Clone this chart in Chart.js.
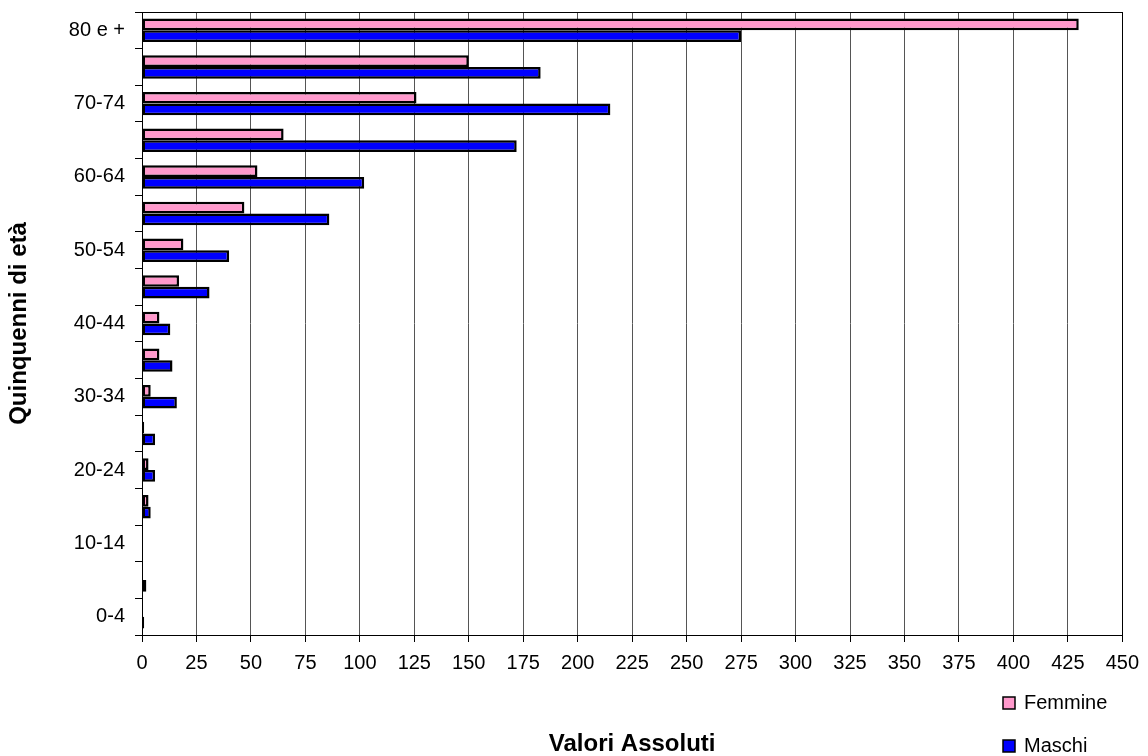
<!DOCTYPE html>
<html>
<head>
<meta charset="utf-8">
<script src="https://cdn.jsdelivr.net/npm/chart.js@4/dist/chart.umd.min.js"></script>
<style>
  html, body { margin: 0; padding: 0; background: #ffffff; }
  #wrap { width: 1148px; height: 756px; }
</style>
</head>
<body>
<div id="wrap"><canvas id="c" width="1148" height="756"></canvas></div>
<script>
// Age groups, oldest at the top
const classiEta = ['80 e +', '75-79', '70-74', '65-69', '60-64', '55-59', '50-54', '45-49',
                   '40-44', '35-39', '30-34', '25-29', '20-24', '15-19', '10-14', '5-9', '0-4'];
const femmine = [430, 150, 126, 65, 53, 47, 19, 17, 8, 8, 4, 1, 3, 3, 0, 0, 0];
const maschi  = [275, 183, 215, 172, 102, 86, 40, 31, 13, 14, 16, 6, 6, 4, 0, 2, 1];
const valoriTicks = { min: 0, max: 450, step: 25 };

const FONT = "'Liberation Sans', Arial, sans-serif";

// Black frame round the plot area
const cornice = {
  id: 'cornice',
  afterDraw(chart) {
    const { ctx, chartArea: a } = chart;
    ctx.save();
    ctx.strokeStyle = '#000';
    ctx.lineWidth = 1;
    ctx.strokeRect(Math.round(a.left) + 0.5, Math.round(a.top) + 0.5,
                   Math.round(a.right - a.left), Math.round(a.bottom - a.top));
    ctx.restore();
  }
};

// Stacked legend in the lower right corner
const legenda = {
  id: 'legenda',
  afterDraw(chart) {
    const { ctx } = chart;
    const rows = [703, 746];
    ctx.save();
    ctx.font = '20px ' + FONT;
    ctx.textBaseline = 'middle';
    chart.data.datasets.forEach((ds, i) => {
      const y = rows[i];
      ctx.fillStyle = ds.backgroundColor;
      ctx.fillRect(1003, y - 6, 12, 12);
      ctx.strokeStyle = '#000';
      ctx.lineWidth = 1.5;
      ctx.strokeRect(1003, y - 6, 12, 12);
      ctx.fillStyle = '#000';
      ctx.fillText(ds.label, 1024, y);
    });
    ctx.restore();
  }
};

new Chart(document.getElementById('c'), {
  type: 'bar',
  data: {
    labels: classiEta,
    datasets: [
      { label: 'Femmine', data: femmine, backgroundColor: '#FF99CC', borderColor: '#000',
        borderWidth: 2.5, borderSkipped: false },
      { label: 'Maschi', data: maschi, backgroundColor: '#0000FF', borderColor: '#000',
        borderWidth: 2.5, borderSkipped: false }
    ]
  },
  options: {
    indexAxis: 'y',
    responsive: false,
    animation: false,
    layout: { padding: { top: 12, right: 21, bottom: 0, left: 0 } },
    datasets: { bar: { categoryPercentage: 0.64, barPercentage: 1.0 } },
    plugins: { legend: { display: false }, tooltip: { enabled: false } },
    scales: {
      x: {
        min: valoriTicks.min, max: valoriTicks.max,
        ticks: { stepSize: valoriTicks.step, autoSkip: false, maxRotation: 0, padding: 9,
                 color: '#000', font: { family: FONT, size: 20 } },
        grid: { color: '#555', lineWidth: 1, tickLength: 7, tickColor: '#000' },
        border: { display: true, color: '#000', width: 1 },
        title: { display: true, text: 'Valori Assoluti', color: '#000',
                 font: { family: FONT, size: 24, weight: 'bold', lineHeight: 1 },
                 padding: { top: 0, bottom: 0 } },
        afterFit(scale) { scale.height = 121; }
      },
      y: {
        ticks: { autoSkip: false, padding: 10, color: '#000', font: { family: FONT, size: 20 },
                 callback(v, i) { return i % 2 === 0 ? classiEta[i] : ''; } },
        grid: { drawOnChartArea: false, tickLength: 7, color: '#000', tickColor: '#000', offset: true },
        border: { display: true, color: '#000', width: 1 },
        title: { display: true, text: 'Quinquenni di età', color: '#000',
                 font: { family: FONT, size: 24, weight: 'bold', lineHeight: 1 },
                 padding: { top: 7, bottom: 0 } },
        afterFit(scale) {
          scale.width = 142;
          scale.paddingTop = 0;
          scale.paddingBottom = 0;
        }
      }
    }
  },
  plugins: [cornice, legenda]
});
</script>
</body>
</html>
